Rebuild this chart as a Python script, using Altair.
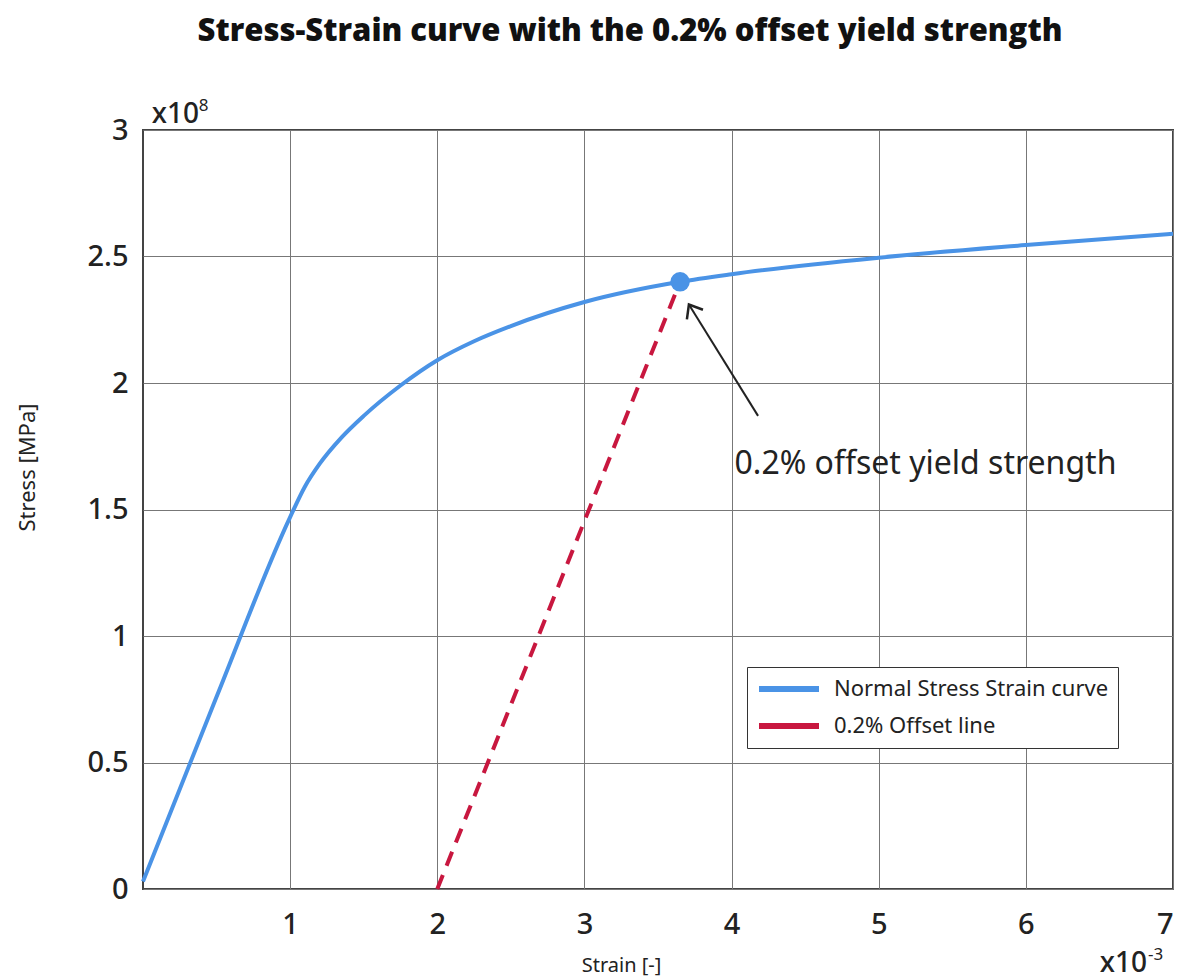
import altair as alt
import pandas as pd

# ---- data (strain in 1e-3, stress in 1e8) ----
curve_strain = [0.0, 0.5, 1.0, 1.1, 1.2, 1.35, 1.5, 1.75, 2.0, 2.25, 2.5, 3.0, 3.65, 4.0, 5.0, 6.0, 7.0]
curve_stress = [0.03, 0.76, 1.47, 1.59, 1.68, 1.785, 1.87, 1.99, 2.09, 2.165, 2.225, 2.32, 2.40, 2.43, 2.495, 2.545, 2.59]

offset_strain = [2.0, 3.65]
offset_stress = [0.0, 2.40]

yield_strain = [3.65]
yield_stress = [2.40]

arrow_strain = [4.18, 3.71]
arrow_stress = [1.87, 2.31]

series_names = ["Normal Stress Strain curve", "0.2% Offset line"]
series_colors = ["#4A93E6", "#C8173F"]

annotation_text = ["0.2% offset yield strength"]
annotation_strain = [4.02]
annotation_stress = [1.68]

x_ticks = [1, 2, 3, 4, 5, 6, 7]
y_ticks = [0, 0.5, 1, 1.5, 2, 2.5, 3]

FONT = "Noto Sans"

curve_df = pd.DataFrame({"strain": curve_strain, "stress": curve_stress, "series": series_names[0]})
offset_df = pd.DataFrame({"strain": offset_strain, "stress": offset_stress, "series": series_names[1]})
yield_df = pd.DataFrame({"strain": yield_strain, "stress": yield_stress})
arrow_df = pd.DataFrame({"strain": [arrow_strain[0]], "stress": [arrow_stress[0]],
                         "strain2": [arrow_strain[1]], "stress2": [arrow_stress[1]]})
head_df = pd.DataFrame({"strain": [arrow_strain[1]], "stress": [arrow_stress[1]]})
ann_df = pd.DataFrame({"strain": annotation_strain, "stress": annotation_stress, "text": annotation_text})
corner_df = pd.DataFrame({"strain": [0.06, 7.0], "stress": [3.0, 0.0]})

x_scale = alt.Scale(domain=[0, 7], nice=False, zero=False)
y_scale = alt.Scale(domain=[0, 3], nice=False, zero=False)

x_enc = alt.X("strain:Q", scale=x_scale,
              axis=alt.Axis(values=x_ticks, title="Strain [-]", format="~g",
                            titleX=478, titleY=76, titleBaseline="middle",
                            titleAnchor="start", titleAlign="center"))
y_enc = alt.Y("stress:Q", scale=y_scale,
              axis=alt.Axis(values=y_ticks, title="Stress [MPa]", format="~g",
                            titleX=-116, titleY=337, titleBaseline="middle",
                            titleAlign="center", titleAngle=270, titleFontSize=22))

color_enc = alt.Color("series:N",
                      scale=alt.Scale(domain=series_names, range=series_colors),
                      legend=alt.Legend(title=None, orient="none", legendX=604, legendY=537,
                                        symbolType="stroke", symbolSize=3600, symbolStrokeWidth=6,
                                        symbolDash=[1, 0], clipHeight=26, rowPadding=11,
                                        labelFont=FONT, labelFontSize=22, labelColor="#222",
                                        labelOffset=12, labelLimit=0, padding=9,
                                        strokeColor="#333", fillColor="white"))

curve = alt.Chart(curve_df).mark_line(strokeWidth=4, interpolate="monotone").encode(
    x=x_enc, y=y_enc, color=color_enc)

offset = alt.Chart(offset_df).mark_line(strokeWidth=4, strokeDash=[15, 10]).encode(
    x="strain:Q", y="stress:Q", color=color_enc)

yield_pt = alt.Chart(yield_df).mark_point(filled=True, size=380, color=series_colors[0], opacity=1).encode(
    x="strain:Q", y="stress:Q")

arrow_line = alt.Chart(arrow_df).mark_rule(color="#222", strokeWidth=2).encode(
    x="strain:Q", y="stress:Q", x2="strain2:Q", y2="stress2:Q")

arrow_head = alt.Chart(head_df).mark_point(
    shape="M -0.8 1 L 0 0 L 0.8 1", filled=False, size=550, color="#222",
    strokeWidth=2.5, opacity=1, angle=329).encode(x="strain:Q", y="stress:Q")

ann = alt.Chart(ann_df).mark_text(align="left", baseline="middle", font=FONT, fontSize=32,
                                  color="#222").encode(x="strain:Q", y="stress:Q", text="text:N")

corner = alt.Chart(corner_df)
mult_y = corner.transform_filter(alt.datum.stress > 1).mark_text(
    align="left", baseline="alphabetic", font=FONT, fontSize=28, fontWeight=500,
    color="#222", dy=-7, text="x10").encode(x="strain:Q", y="stress:Q")
mult_y_exp = corner.transform_filter(alt.datum.stress > 1).mark_text(
    align="left", baseline="alphabetic", font=FONT, fontSize=17,
    color="#222", dy=-19, dx=47, text="8").encode(x="strain:Q", y="stress:Q")
mult_x = corner.transform_filter(alt.datum.stress < 1).mark_text(
    align="right", baseline="alphabetic", font=FONT, fontSize=28, fontWeight=500,
    color="#222", dy=83, dx=-26, text="x10").encode(x="strain:Q", y="stress:Q")
mult_x_exp = corner.transform_filter(alt.datum.stress < 1).mark_text(
    align="left", baseline="alphabetic", font=FONT, fontSize=17,
    color="#222", dy=71, dx=-25, text="-3").encode(x="strain:Q", y="stress:Q")

chart = alt.layer(curve, offset, yield_pt, arrow_line, arrow_head, ann,
                  mult_y, mult_y_exp, mult_x, mult_x_exp).properties(
    width=1030, height=759,
    autosize=alt.AutoSizeParams(type="none"),
    padding={"left": 143, "top": 130, "right": 15, "bottom": 91},
    title=alt.Title("Stress-Strain curve with the 0.2% offset yield strength",
                    font="Open Sans", fontSize=31, fontWeight=800, color="#111",
                    anchor="middle", dx=-28, dy=-45),
).configure_view(stroke="#444", strokeWidth=2).configure_axis(
    grid=True, gridColor="#777", gridWidth=1, gridOpacity=1,
    domain=False, ticks=False,
    labelFont=FONT, labelFontSize=29, labelFontWeight=500, labelColor="#222",
    titleFont=FONT, titleFontSize=20, titleFontWeight="normal", titleColor="#222",
).configure_axisX(labelPadding=21).configure_axisY(labelPadding=15)

chart.save("out.html", embed_options={"renderer": "svg", "actions": False})
